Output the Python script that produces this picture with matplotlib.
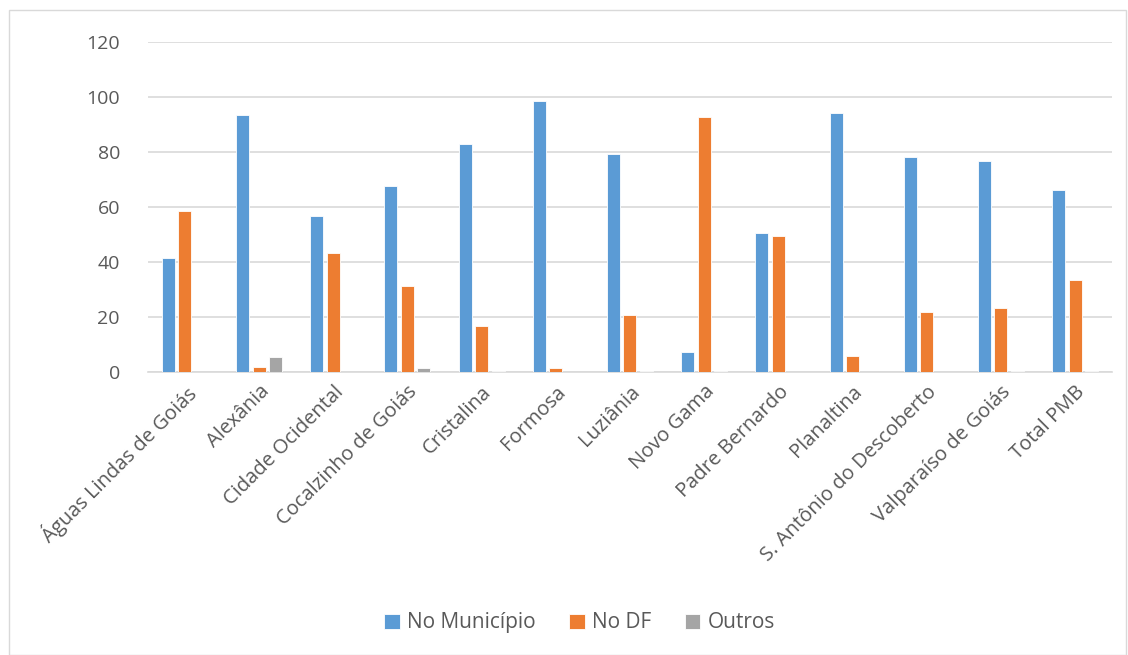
import matplotlib.pyplot as plt
import numpy as np
from matplotlib.patches import Rectangle

categories = ["Águas Lindas de Goiás", "Alexânia", "Cidade Ocidental", "Cocalzinho de Goiás",
              "Cristalina", "Formosa", "Luziânia", "Novo Gama", "Padre Bernardo", "Planaltina",
              "S. Antônio do Descoberto", "Valparaíso de Goiás", "Total PMB"]
no_municipio = [41.3, 93.4, 56.8, 67.6, 83.0, 98.7, 79.4, 7.2, 50.7, 94.1, 78.2, 76.7, 66.1]
no_df = [58.7, 1.7, 43.2, 31.2, 16.9, 1.5, 20.6, 92.6, 49.3, 5.9, 21.8, 23.1, 33.6]
outros = [0.0, 5.3, 0.0, 1.3, 0.4, 0.0, 0.3, 0.4, 0.0, 0.0, 0.1, 0.4, 0.3]

series = [("No Município", no_municipio, "#5b9bd5"),
          ("No DF", no_df, "#ed7d31"),
          ("Outros", outros, "#a5a5a5")]

plt.rcParams["font.family"] = ["Open Sans", "DejaVu Sans"]
text_color = "#595959"

fig = plt.figure(figsize=(11.28, 6.55), dpi=100)
ax = fig.add_axes([0.131, 0.432, 0.855, 0.504])

x = np.arange(len(categories))
width = 0.175
step = 0.222
for i, (name, vals, color) in enumerate(series):
    ax.bar(x + (i - 1) * step, vals, width, color=color, label=name,
           edgecolor="white", linewidth=0.6, zorder=3)

ax.set_xlim(-0.5, len(categories) - 0.5)
ax.set_ylim(0, 120)
ax.set_yticks(np.arange(0, 121, 20))
ax.yaxis.grid(True, color="#d9d9d9", linewidth=1.2, zorder=0)
for s in ["top", "right", "left"]:
    ax.spines[s].set_visible(False)
ax.spines["bottom"].set_color("#d9d9d9")
ax.spines["bottom"].set_linewidth(1.2)
ax.tick_params(axis="both", length=0, colors=text_color)
ax.tick_params(axis="y", pad=20, labelsize=14)
ax.tick_params(axis="x", pad=7, labelsize=14.5)
ax.set_xticks(x)
ax.set_xticklabels(categories, rotation=45, ha="right", rotation_mode="anchor")

ax.legend(loc="center", ncol=3, frameon=False,
          fontsize=15, labelcolor=text_color, handlelength=0.75, handleheight=0.75,
          columnspacing=1.6, handletextpad=0.35,
          bbox_to_anchor=(0.514, 0.049), bbox_transform=fig.transFigure)

fig.patches.append(Rectangle((0.008, 0.0), 0.99, 0.985, transform=fig.transFigure,
                             fill=False, edgecolor="#d9d9d9", linewidth=1.0))

fig.savefig("out.png", dpi=100)
